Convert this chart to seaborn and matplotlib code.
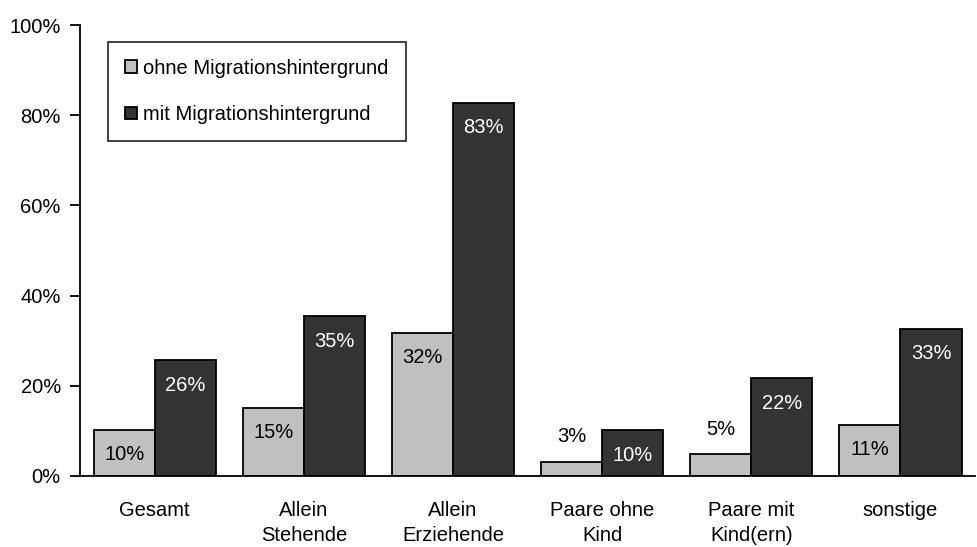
import pandas as pd
import matplotlib
matplotlib.use("Agg")
import matplotlib.pyplot as plt
import seaborn as sns

categories = ["Gesamt", "Allein\nStehende", "Allein\nErziehende",
              "Paare ohne\nKind", "Paare mit\nKind(ern)", "sonstige"]
groups = ["ohne Migrationshintergrund", "mit Migrationshintergrund"]
ohne = [10.2, 15.1, 31.8, 3.1, 4.8, 11.4]
mit = [25.7, 35.4, 82.8, 10.1, 21.7, 32.6]

df = pd.DataFrame({
    "kategorie": categories * 2,
    "gruppe": [groups[0]] * len(categories) + [groups[1]] * len(categories),
    "wert": ohne + mit,
})

sns.set_theme(style="white")
plt.rcParams["font.family"] = ["Liberation Sans", "DejaVu Sans"]
fs = 14.5

fig = plt.figure(figsize=(9.78, 5.47), dpi=100)
ax = fig.add_axes([0.082, 0.130, 0.915, 0.824])

palette = {groups[0]: "#c0c0c0", groups[1]: "#333333"}
sns.barplot(data=df, x="kategorie", y="wert", hue="gruppe", palette=palette,
            width=0.82, edgecolor="black", linewidth=1.3, saturation=1,
            ax=ax)

ax.set_ylim(0, 100)
ax.set_xlim(-0.5, 5.5)
ax.set_yticks(range(0, 101, 20))
ax.set_yticklabels([f"{v}%" for v in range(0, 101, 20)])
ax.set_xlabel("")
ax.set_ylabel("")
ax.tick_params(axis="y", length=7, width=1.3, color="black", labelsize=fs,
               pad=7, left=True, labelcolor="black")
ax.tick_params(axis="x", length=0, labelsize=fs, pad=18, labelcolor="black")
for lab in ax.get_xticklabels():
    lab.set_linespacing(1.4)

sns.despine(ax=ax)
for s in ["left", "bottom"]:
    ax.spines[s].set_color("black")
    ax.spines[s].set_linewidth(1.3)

# value labels
for cont, txtcol in zip(ax.containers, ["black", "white"]):
    for bar in cont:
        h = bar.get_height()
        x = bar.get_x() + bar.get_width() / 2
        if h < 8:
            ax.annotate(f"{h:.0f}%", (x, h), xytext=(0, 18),
                        textcoords="offset points", ha="center",
                        va="center", fontsize=fs, color="black")
        else:
            ax.annotate(f"{h:.0f}%", (x, h), xytext=(0, -18),
                        textcoords="offset points", ha="center",
                        va="center", fontsize=fs, color=txtcol)

leg = ax.legend(loc="upper left", bbox_to_anchor=(0.031, 0.963),
                fontsize=fs, frameon=True, fancybox=False,
                edgecolor="black", handlelength=0.6, handleheight=0.6,
                handletextpad=0.3, labelspacing=1.35, borderpad=0.85,
                borderaxespad=0, title=None)
leg.get_frame().set_linewidth(1.3)
for t in leg.get_texts():
    t.set_color("black")

fig.savefig("out.png", dpi=100)
